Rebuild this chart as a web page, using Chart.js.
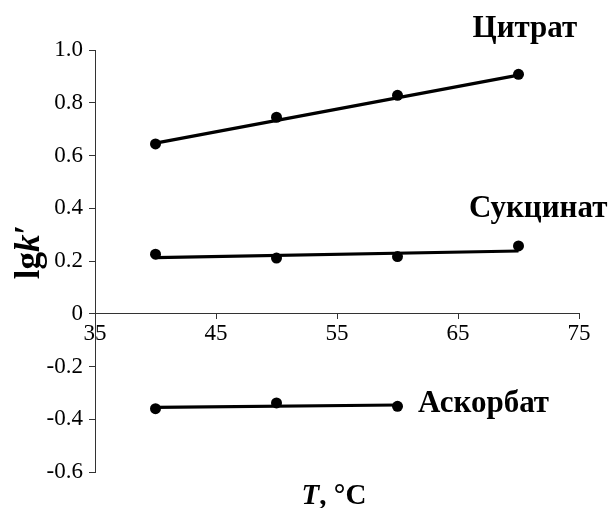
<!DOCTYPE html>
<html>
<head>
<meta charset="utf-8">
<script src="https://cdn.jsdelivr.net/npm/chart.js@4/dist/chart.umd.min.js"></script>
<style>
  body { margin: 0; background: #fff; }
  #wrap { width: 613px; height: 508px; }
</style>
</head>
<body>
<div id="wrap"><canvas id="chart"></canvas></div>
<script>
// temperatures, °C
const temps = [40, 50, 60, 70];
const ascorbateTemps = [40, 50, 60];

// measured lg k'
const citrate = [0.644, 0.745, 0.828, 0.908];
const succinate = [0.226, 0.211, 0.217, 0.257];
const ascorbate = [-0.360, -0.338, -0.351];

// trend lines (value at first and last temperature)
const citrateFit = [0.647, 0.905];
const succinateFit = [0.213, 0.238];
const ascorbateFit = [-0.355, -0.346];

const seriesNames = ['Цитрат', 'Сукцинат', 'Аскорбат'];

const xTicks = [35, 45, 55, 65, 75];
const yTicks = [-0.6, -0.4, -0.2, 0, 0.2, 0.4, 0.6, 0.8, 1.0];

const SERIF = "'Liberation Serif', 'DejaVu Serif', 'Times New Roman', serif";

function pts(xs, ys) {
  return xs.map((x, i) => ({ x: x, y: ys[i] }));
}
function fit(xs, ends) {
  return [{ x: xs[0], y: ends[0] }, { x: xs[xs.length - 1], y: ends[1] }];
}

function fitLine(data) {
  return {
    data: data,
    showLine: true,
    borderColor: '#000',
    borderWidth: 3.2,
    pointRadius: 0,
    clip: false
  };
}
function markers(data) {
  return {
    data: data,
    showLine: false,
    pointRadius: 5.5,
    pointBackgroundColor: '#000',
    pointBorderWidth: 0,
    clip: false
  };
}

// series names next to the lines + axis titles with mixed styles
const labelsPlugin = {
  id: 'labels',
  afterDraw(chart) {
    const ctx = chart.ctx;
    const xs = chart.scales.x, ys = chart.scales.y;
    const anchors = [[66.2, 1.08], [65.9, 0.398], [61.7, -0.343]];
    ctx.save();
    ctx.fillStyle = '#000';
    ctx.textBaseline = 'middle';
    ctx.textAlign = 'left';
    ctx.font = 'bold 31px ' + SERIF;
    seriesNames.forEach((name, i) => {
      ctx.fillText(name, xs.getPixelForValue(anchors[i][0]), ys.getPixelForValue(anchors[i][1]));
    });

    // x title: T, °C
    const bold = 'bold 29px ' + SERIF;
    const boldIt = 'italic bold 29px ' + SERIF;
    ctx.textBaseline = 'alphabetic';
    let parts = [['T', boldIt], [', °C', bold]];
    let w = 0;
    parts.forEach(p => { ctx.font = p[1]; w += ctx.measureText(p[0]).width; });
    let x = 334 - w / 2;
    parts.forEach(p => { ctx.font = p[1]; ctx.fillText(p[0], x, 504); x += ctx.measureText(p[0]).width; });

    // y title: lg k′
    const bigBold = 'bold 35px ' + SERIF;
    const bigIt = 'italic bold 35px ' + SERIF;
    ctx.translate(39, 252);
    ctx.rotate(-Math.PI / 2);
    parts = [['lg', bigBold], ['k', bigIt], ['′', bigBold]];
    w = 0;
    parts.forEach(p => { ctx.font = p[1]; w += ctx.measureText(p[0]).width; });
    x = -w / 2;
    parts.forEach(p => { ctx.font = p[1]; ctx.fillText(p[0], x, 0); x += ctx.measureText(p[0]).width; });
    ctx.restore();
  }
};

new Chart(document.getElementById('chart'), {
  type: 'scatter',
  data: {
    datasets: [
      fitLine(fit(temps, citrateFit)),
      fitLine(fit(temps, succinateFit)),
      fitLine(fit(ascorbateTemps, ascorbateFit)),
      markers(pts(temps, citrate)),
      markers(pts(temps, succinate)),
      markers(pts(ascorbateTemps, ascorbate))
    ]
  },
  options: {
    responsive: true,
    maintainAspectRatio: false,
    animation: false,
    layout: { padding: { left: 0, right: 34, top: 50, bottom: 36 } },
    plugins: {
      legend: { display: false },
      tooltip: { enabled: false }
    },
    scales: {
      x: {
        type: 'linear',
        position: { y: 0 },
        min: 35,
        max: 75,
        afterBuildTicks: s => { s.ticks = xTicks.map(v => ({ value: v })); },
        border: { display: true, color: '#333', width: 1 },
        grid: { drawOnChartArea: false, drawTicks: true, tickLength: 5, color: '#333' },
        ticks: {
          color: '#000',
          padding: 1,
          maxRotation: 0,
          font: { family: SERIF, size: 23 }
        }
      },
      y: {
        type: 'linear',
        min: -0.6,
        max: 1.0,
        afterBuildTicks: s => { s.ticks = yTicks.map(v => ({ value: v })); },
        afterFit: s => { s.width = 95; },
        border: { display: true, color: '#333', width: 1 },
        grid: { drawOnChartArea: false, drawTicks: true, tickLength: 6, color: '#333' },
        ticks: {
          color: '#000',
          padding: 6,
          font: { family: SERIF, size: 23 },
          callback: v => (Math.abs(v) < 1e-9 ? '0' : v.toFixed(1))
        }
      }
    }
  },
  plugins: [labelsPlugin]
});
</script>
</body>
</html>
